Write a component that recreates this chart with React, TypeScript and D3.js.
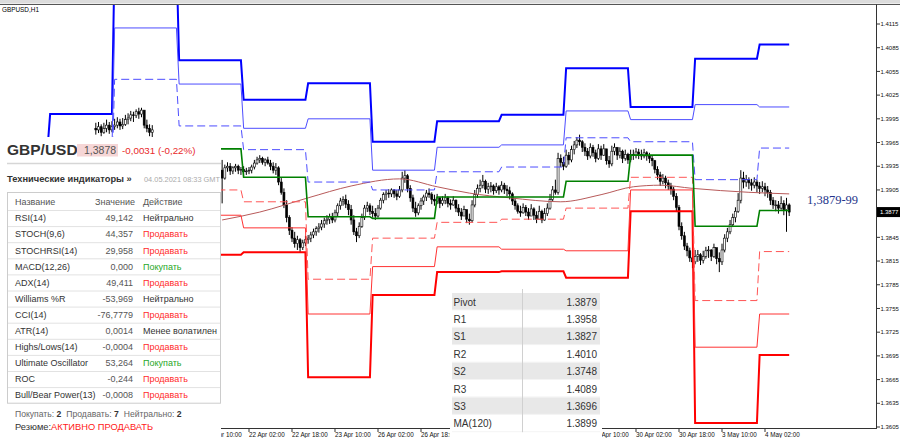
import React from 'react';
import * as d3 from 'd3';

const W = 900;
const H = 438;
const FONT = "'Liberation Sans', Arial, sans-serif";

// ---- axes ----
const priceTicks = [1.4115, 1.4085, 1.4055, 1.4025, 1.3995, 1.3965, 1.3935, 1.3905, 1.3845, 1.3815, 1.3785, 1.3755, 1.3725, 1.3695, 1.3665, 1.3635, 1.3605];
const currentPrice = 1.3877;
const timeTickBars = [-16, 0, 16, 32, 48, 64, 80, 96, 112, 128, 144, 160, 176, 192];
const timeTickLabels = ['21 Apr 10:00', '22 Apr 02:00', '22 Apr 18:00', '23 Apr 10:00', '26 Apr 02:00', '26 Apr 18:00', '27 Apr 10:00', '28 Apr 02:00', '28 Apr 18:00', '29 Apr 10:00', '30 Apr 02:00', '30 Apr 18:00', '3 May 10:00', '4 May 02:00'];

// ---- daily pivot levels (bar index of day start; 0 = 22 Apr 02:00) ----
const dayStarts = [-98, -74, -50, -26, -2, 22, 46, 70, 94, 118, 142, 166, 190];
const lastBar = 201;
const levelR3 = [1.3956, 1.4001, 1.4200, 1.4069, 1.4019, 1.4040, 1.3966, 1.3992, 1.4000, 1.4059, 1.4010, 1.4071, 1.4089];
const levelR2 = [null, 1.3956, 1.4110, 1.4039, 1.3983, 1.3995, 1.3930, 1.3959, 1.3962, 1.4005, 1.3994, 1.4013, 1.4010];
const levelR1 = [null, 1.3919, 1.4045, 1.3986, 1.3956, 1.3915, 1.3905, 1.3928, 1.3934, 1.3971, 1.3966, 1.3918, 1.3958];
const levelP = [null, 1.3873, 1.3956, 1.3957, 1.3921, 1.3871, 1.3869, 1.3896, 1.3896, 1.3916, 1.3949, 1.3859, 1.3879];
const levelS1 = [null, 1.3837, 1.3891, 1.3905, 1.3890, 1.3792, 1.3844, 1.3864, 1.3868, 1.3882, 1.3921, 1.3765, 1.3827];
const levelS2 = [null, 1.3791, 1.3801, 1.3873, 1.3857, 1.3748, 1.3808, 1.3833, 1.3830, 1.3828, 1.3905, 1.3706, 1.3748];
const levelS3 = [null, 1.3754, 1.3711, 1.3823, 1.3826, 1.3668, 1.3772, 1.3801, 1.3802, 1.3794, 1.3878, 1.3610, 1.3696];

// ---- MA(120) read points [bar, value] ----
const maPoints = [[-10, 1.3867], [4, 1.3877], [22, 1.3895], [38, 1.3910], [56, 1.3919], [70, 1.3909], [82, 1.3901], [97, 1.3895], [116, 1.3890], [131, 1.3899], [143, 1.3909], [153, 1.3911], [165, 1.3907], [186, 1.3902], [201, 1.3900]];

// ---- candles [high, low, close]; open = previous close ----
const candlesAStart = -57;
const candlesAOpen = 1.3983;
const candlesA = [
  [1.3990, 1.3975, 1.3981], [1.3991, 1.3977, 1.3985], [1.3988, 1.3973, 1.3978], [1.3990, 1.3976, 1.3983],
  [1.3994, 1.3978, 1.3987], [1.3991, 1.3976, 1.3981], [1.3992, 1.3978, 1.3985], [1.3995, 1.3981, 1.3987],
  [1.3997, 1.3983, 1.3991], [1.3995, 1.3981, 1.3986], [1.3996, 1.3982, 1.3988], [1.4000, 1.3986, 1.3994],
  [1.4002, 1.3988, 1.3996], [1.4005, 1.3992, 1.4000], [1.4004, 1.3991, 1.3999], [1.4007, 1.3996, 1.4004],
  [1.4009, 1.3995, 1.4001], [1.4009, 1.3997, 1.4006], [1.4004, 1.3983, 1.3987], [1.3994, 1.3978, 1.3983],
  [1.3988, 1.3973, 1.3978], [1.3987, 1.3972, 1.3981],
];
const candlesBStart = -10;
const candlesBOpen = 1.3930;
const candlesB = [
  [1.3943, 1.3888, 1.3920], [1.3937, 1.3918, 1.3933], [1.3940, 1.3928, 1.3935], [1.3939, 1.3924, 1.3929],
  [1.3935, 1.3925, 1.3933], [1.3938, 1.3928, 1.3935], [1.3937, 1.3925, 1.3930], [1.3934, 1.3924, 1.3931],
  [1.3935, 1.3923, 1.3928], [1.3933, 1.3924, 1.3929], [1.3934, 1.3925, 1.3930], [1.3937, 1.3926, 1.3934],
  [1.3943, 1.3931, 1.3939], [1.3947, 1.3937, 1.3943], [1.3949, 1.3939, 1.3945], [1.3947, 1.3937, 1.3940],
  [1.3945, 1.3935, 1.3943], [1.3947, 1.3937, 1.3939], [1.3943, 1.3930, 1.3935], [1.3940, 1.3926, 1.3930],
  [1.3939, 1.3924, 1.3933], [1.3935, 1.3911, 1.3915], [1.3920, 1.3899, 1.3902], [1.3907, 1.3882, 1.3886],
  [1.3892, 1.3864, 1.3870], [1.3873, 1.3848, 1.3854], [1.3858, 1.3839, 1.3844], [1.3852, 1.3832, 1.3837],
  [1.3847, 1.3829, 1.3842], [1.3844, 1.3826, 1.3832], [1.3842, 1.3829, 1.3838], [1.3847, 1.3834, 1.3842],
  [1.3848, 1.3837, 1.3844], [1.3852, 1.3839, 1.3848], [1.3856, 1.3844, 1.3852], [1.3859, 1.3847, 1.3856],
  [1.3863, 1.3851, 1.3858], [1.3867, 1.3854, 1.3862], [1.3870, 1.3857, 1.3866], [1.3873, 1.3861, 1.3868],
  [1.3875, 1.3862, 1.3871], [1.3876, 1.3863, 1.3867], [1.3880, 1.3864, 1.3876], [1.3888, 1.3872, 1.3885],
  [1.3895, 1.3880, 1.3891], [1.3897, 1.3885, 1.3893], [1.3899, 1.3882, 1.3887], [1.3892, 1.3873, 1.3880],
  [1.3886, 1.3861, 1.3867], [1.3873, 1.3848, 1.3852], [1.3857, 1.3839, 1.3847], [1.3864, 1.3844, 1.3859],
  [1.3875, 1.3857, 1.3870], [1.3886, 1.3867, 1.3882], [1.3890, 1.3877, 1.3885], [1.3888, 1.3873, 1.3878],
  [1.3885, 1.3870, 1.3875], [1.3882, 1.3867, 1.3872], [1.3886, 1.3870, 1.3882], [1.3895, 1.3880, 1.3892],
  [1.3902, 1.3888, 1.3899], [1.3905, 1.3892, 1.3901], [1.3906, 1.3895, 1.3900], [1.3907, 1.3896, 1.3905],
  [1.3906, 1.3895, 1.3900], [1.3905, 1.3892, 1.3897], [1.3910, 1.3895, 1.3905], [1.3928, 1.3902, 1.3920],
  [1.3930, 1.3914, 1.3923], [1.3925, 1.3902, 1.3907], [1.3911, 1.3890, 1.3895], [1.3899, 1.3877, 1.3882],
  [1.3890, 1.3871, 1.3876], [1.3888, 1.3873, 1.3885], [1.3895, 1.3880, 1.3891], [1.3899, 1.3886, 1.3896],
  [1.3905, 1.3891, 1.3901], [1.3907, 1.3895, 1.3899], [1.3902, 1.3887, 1.3893], [1.3899, 1.3885, 1.3891],
  [1.3900, 1.3887, 1.3895], [1.3896, 1.3882, 1.3888], [1.3897, 1.3885, 1.3892], [1.3900, 1.3887, 1.3895],
  [1.3897, 1.3883, 1.3888], [1.3893, 1.3880, 1.3886], [1.3897, 1.3885, 1.3892], [1.3893, 1.3877, 1.3882],
  [1.3887, 1.3872, 1.3877], [1.3882, 1.3867, 1.3872], [1.3885, 1.3872, 1.3880], [1.3880, 1.3863, 1.3868],
  [1.3875, 1.3861, 1.3866], [1.3892, 1.3864, 1.3886], [1.3905, 1.3883, 1.3899], [1.3912, 1.3895, 1.3907],
  [1.3918, 1.3902, 1.3911], [1.3924, 1.3907, 1.3916], [1.3918, 1.3901, 1.3906], [1.3914, 1.3900, 1.3909],
  [1.3915, 1.3902, 1.3910], [1.3912, 1.3899, 1.3904], [1.3914, 1.3901, 1.3909], [1.3911, 1.3899, 1.3905],
  [1.3916, 1.3902, 1.3911], [1.3914, 1.3900, 1.3906], [1.3911, 1.3897, 1.3904], [1.3909, 1.3893, 1.3900],
  [1.3902, 1.3886, 1.3891], [1.3895, 1.3880, 1.3885], [1.3888, 1.3875, 1.3878], [1.3885, 1.3871, 1.3876],
  [1.3888, 1.3875, 1.3883], [1.3886, 1.3872, 1.3877], [1.3882, 1.3867, 1.3872], [1.3887, 1.3872, 1.3881],
  [1.3883, 1.3867, 1.3873], [1.3878, 1.3863, 1.3868], [1.3885, 1.3870, 1.3878], [1.3880, 1.3863, 1.3867],
  [1.3882, 1.3866, 1.3875], [1.3888, 1.3872, 1.3882], [1.3900, 1.3880, 1.3893], [1.3910, 1.3891, 1.3905],
  [1.3918, 1.3899, 1.3902], [1.3952, 1.3899, 1.3945], [1.3950, 1.3934, 1.3940], [1.3947, 1.3930, 1.3935],
  [1.3956, 1.3933, 1.3949], [1.3953, 1.3937, 1.3943], [1.3961, 1.3940, 1.3956], [1.3967, 1.3950, 1.3962],
  [1.3972, 1.3958, 1.3968], [1.3975, 1.3961, 1.3966], [1.3968, 1.3953, 1.3959], [1.3964, 1.3948, 1.3954],
  [1.3958, 1.3943, 1.3948], [1.3964, 1.3945, 1.3959], [1.3962, 1.3947, 1.3952], [1.3956, 1.3940, 1.3945],
  [1.3963, 1.3943, 1.3957], [1.3961, 1.3943, 1.3949], [1.3963, 1.3948, 1.3957], [1.3956, 1.3937, 1.3942],
  [1.3948, 1.3933, 1.3938], [1.3961, 1.3935, 1.3954], [1.3964, 1.3949, 1.3959], [1.3958, 1.3943, 1.3949],
  [1.3959, 1.3945, 1.3954], [1.3956, 1.3939, 1.3945], [1.3956, 1.3942, 1.3950], [1.3952, 1.3938, 1.3943],
  [1.3956, 1.3940, 1.3950], [1.3956, 1.3943, 1.3949], [1.3958, 1.3945, 1.3953], [1.3957, 1.3944, 1.3950],
  [1.3956, 1.3943, 1.3948], [1.3957, 1.3945, 1.3952], [1.3954, 1.3942, 1.3948], [1.3952, 1.3939, 1.3945],
  [1.3949, 1.3935, 1.3942], [1.3943, 1.3926, 1.3931], [1.3935, 1.3918, 1.3924], [1.3928, 1.3910, 1.3916],
  [1.3925, 1.3912, 1.3920], [1.3923, 1.3907, 1.3914], [1.3918, 1.3905, 1.3910], [1.3914, 1.3899, 1.3906],
  [1.3909, 1.3892, 1.3897], [1.3901, 1.3877, 1.3883], [1.3886, 1.3854, 1.3859], [1.3864, 1.3842, 1.3847],
  [1.3852, 1.3829, 1.3834], [1.3838, 1.3821, 1.3828], [1.3832, 1.3814, 1.3819], [1.3826, 1.3806, 1.3814],
  [1.3829, 1.3811, 1.3821], [1.3829, 1.3814, 1.3823], [1.3825, 1.3810, 1.3816], [1.3828, 1.3812, 1.3821],
  [1.3833, 1.3818, 1.3828], [1.3834, 1.3819, 1.3829], [1.3830, 1.3815, 1.3821], [1.3837, 1.3819, 1.3832],
  [1.3830, 1.3811, 1.3818], [1.3826, 1.3801, 1.3814], [1.3837, 1.3810, 1.3829], [1.3849, 1.3826, 1.3844],
  [1.3857, 1.3839, 1.3852], [1.3867, 1.3849, 1.3861], [1.3875, 1.3858, 1.3870], [1.3883, 1.3864, 1.3878],
  [1.3901, 1.3876, 1.3892], [1.3930, 1.3888, 1.3920], [1.3928, 1.3907, 1.3915], [1.3924, 1.3909, 1.3918],
  [1.3921, 1.3906, 1.3914], [1.3919, 1.3904, 1.3911], [1.3921, 1.3907, 1.3915], [1.3918, 1.3902, 1.3910],
  [1.3915, 1.3900, 1.3907], [1.3916, 1.3902, 1.3909], [1.3914, 1.3897, 1.3905], [1.3910, 1.3895, 1.3902],
  [1.3905, 1.3886, 1.3892], [1.3896, 1.3881, 1.3886], [1.3892, 1.3878, 1.3886], [1.3891, 1.3875, 1.3882],
  [1.3897, 1.3880, 1.3888], [1.3892, 1.3873, 1.3880], [1.3895, 1.3852, 1.3886], [1.3888, 1.3872, 1.3877],
];

// ---- indicator panel ----
const pairName = 'GBP/USD';
const pairPrice = '1,3878';
const pairChange = '-0,0031 (-0,22%)';
const indicatorNames = ['RSI(14)', 'STOCH(9,6)', 'STOCHRSI(14)', 'MACD(12,26)', 'ADX(14)', 'Williams %R', 'CCI(14)', 'ATR(14)', 'Highs/Lows(14)', 'Ultimate Oscillator', 'ROC', 'Bull/Bear Power(13)'];
const indicatorValues = ['49,142', '44,357', '29,958', '0,000', '49,411', '-53,969', '-76,7779', '0,0014', '-0,0004', '53,264', '-0,244', '-0,0008'];
const indicatorActions = ['Нейтрально', 'Продавать', 'Продавать', 'Покупать', 'Продавать', 'Нейтрально', 'Продавать', 'Менее волатилен', 'Продавать', 'Покупать', 'Продавать', 'Продавать'];

// ---- pivot table ----
const pivotLabels = ['Pivot', 'R1', 'S1', 'R2', 'S2', 'R3', 'S3', 'MA(120)'];
const pivotValues = ['1.3879', '1.3958', '1.3827', '1.4010', '1.3748', '1.4089', '1.3696', '1.3899'];

const xs = d3.scaleLinear().domain([0, 192]).range([249, 765]);
const ys = d3.scaleLinear().domain([1.3605, 1.4115]).range([427, 24]);

function stepPoints(vals: (number | null)[]) {
  const pts: [number, number | null][] = [];
  vals.forEach((v, d) => {
    const s = dayStarts[d];
    const e = d < dayStarts.length - 1 ? dayStarts[d + 1] - 1 : lastBar;
    pts.push([s, v]);
    pts.push([e, v]);
  });
  return pts;
}

const stepLine = d3.line<[number, number | null]>()
  .defined((p) => p[1] != null)
  .x((p) => xs(p[0]))
  .y((p) => ys(p[1] as number));

const maLine = d3.line<number[]>().curve(d3.curveMonotoneX).x((p) => xs(p[0])).y((p) => ys(p[1]));

function Candles({ start, open0, data }: { start: number; open0: number; data: number[][] }) {
  let prev = open0;
  return (
    <g>
      {data.map((c, k) => {
        const [hi, lo, cl] = c;
        const op = prev;
        prev = cl;
        const cx = xs(start + k);
        const top = ys(Math.max(op, cl));
        const bot = ys(Math.min(op, cl));
        const bull = cl >= op;
        return (
          <g key={k}>
            <line x1={cx} x2={cx} y1={ys(hi)} y2={ys(lo)} stroke="#000" strokeWidth={1} />
            <rect x={cx - 1} y={top} width={2} height={Math.max(bot - top, 0.8)} fill={bull ? '#fff' : '#000'} stroke="#000" strokeWidth={0.6} />
          </g>
        );
      })}
    </g>
  );
}

const levelStyles = [
  { vals: levelS3, color: '#ff0000', w: 2, dash: undefined },
  { vals: levelS2, color: '#ff3333', w: 1, dash: undefined },
  { vals: levelS1, color: '#ff5555', w: 1, dash: '8,4' },
  { vals: levelR3, color: '#0000ff', w: 2, dash: undefined },
  { vals: levelR2, color: '#4d4dff', w: 1, dash: undefined },
  { vals: levelR1, color: '#4d4dff', w: 1, dash: '8,4' },
  { vals: levelP, color: '#008000', w: 1.6, dash: undefined },
];

function actionColor(a: string) {
  if (a === 'Продавать') return '#ff2a2a';
  if (a === 'Покупать') return '#1fa71f';
  return '#333';
}

export default function App() {
  const rowTop = 210;
  const rowH = 16.1;
  const pvTop = 293;
  const pvH = 17.4;
  return (
    <svg width={W} height={H} style={{ position: 'fixed', left: 0, top: 0, background: '#fff' }} fontFamily={FONT}>
      <defs>
        <clipPath id="plot">
          <rect x={0} y={5} width={876} height={423} />
        </clipPath>
      </defs>
      <rect x={0} y={0} width={W} height={H} fill="#fff" />
      <rect x={0} y={0} width={W} height={3.5} fill="#dcdcdc" />
      <line x1={0} x2={W} y1={4.5} y2={4.5} stroke="#555" strokeWidth={1} />

      <g clipPath="url(#plot)">
        <Candles start={candlesAStart} open0={candlesAOpen} data={candlesA} />
        <Candles start={candlesBStart} open0={candlesBOpen} data={candlesB} />
        <path d={maLine(maPoints) || ''} fill="none" stroke="#b85a5a" strokeWidth={1} />
        {levelStyles.map((s, i) => (
          <path key={i} d={stepLine(stepPoints(s.vals)) || ''} fill="none" stroke={s.color} strokeWidth={s.w} strokeDasharray={s.dash} />
        ))}
      </g>

      <text x={807} y={204} fontFamily="'Liberation Serif', 'Times New Roman', serif" fontSize={12.5} fill="#25348a">1,3879-99</text>

      {/* right axis */}
      <line x1={876.5} x2={876.5} y1={4.5} y2={428.5} stroke="#333" strokeWidth={1} />
      {priceTicks.map((p) => (
        <g key={p}>
          <line x1={877} x2={880} y1={ys(p)} y2={ys(p)} stroke="#333" strokeWidth={1} />
          <text x={880.5} y={ys(p) + 2.2} fontSize={6} fill="#111">{p.toFixed(4)}</text>
        </g>
      ))}
      <rect x={877} y={ys(currentPrice) - 5} width={23} height={10} fill="#000" />
      <text x={880} y={ys(currentPrice) + 2.2} fontSize={6} fill="#fff">{currentPrice.toFixed(4)}</text>

      {/* bottom axis */}
      <line x1={0} x2={877} y1={428.5} y2={428.5} stroke="#333" strokeWidth={1} />
      {timeTickBars.map((b, i) => (
        <g key={b}>
          <line x1={xs(b)} x2={xs(b)} y1={429} y2={432} stroke="#333" strokeWidth={1} />
          <text x={xs(b)} y={436.5} fontSize={6.3} fill="#111">{timeTickLabels[i]}</text>
        </g>
      ))}

      <text x={2} y={12} fontSize={6.4} fill="#000">GBPUSD,H1</text>

      {/* left indicator panel */}
      <rect x={0} y={137} width={221} height={H - 137} fill="#fff" />
      <text x={7} y={154.5} fontSize={15.5} fontWeight="bold" fill="#333">{pairName}</text>
      <rect x={77} y={144} width={41} height={12.5} fill="#f6d6d6" />
      <text x={84} y={154} fontSize={10.5} fill="#555">{pairPrice}</text>
      <text x={122} y={154} fontSize={9.8} fill="#e82a2a">{pairChange}</text>
      <line x1={7} x2={221} y1={163.5} y2={163.5} stroke="#d6d6d6" strokeWidth={1.5} />
      <text x={7} y={182} fontSize={9.3} fontWeight="bold" fill="#333">Технические индикаторы »</text>
      <text x={144} y={182} fontSize={7.4} fill="#aaa">04.05.2021 08:33 GMT</text>

      <rect x={7.5} y={192.5} width={213} height={rowTop + rowH * indicatorNames.length - 192.5} fill="#fff" stroke="#ccc" strokeWidth={1} />
      <text x={15} y={205} fontSize={9} fill="#555">Название</text>
      <text x={95} y={205} fontSize={9} fill="#555">Значение</text>
      <text x={143} y={205} fontSize={9} fill="#555">Действие</text>
      {indicatorNames.map((n, i) => {
        const y0 = rowTop + rowH * i;
        return (
          <g key={n}>
            <line x1={8} x2={220} y1={y0 + 0.5} y2={y0 + 0.5} stroke="#e2e2e2" strokeWidth={1} />
            <text x={15} y={y0 + 11.3} fontSize={9} fill="#333">{n}</text>
            <text x={133} y={y0 + 11.3} fontSize={9} fill="#555" textAnchor="end">{indicatorValues[i]}</text>
            <text x={143} y={y0 + 11.3} fontSize={9} fill={actionColor(indicatorActions[i])}>{indicatorActions[i]}</text>
          </g>
        );
      })}
      <text x={15} y={417} fontSize={8.6} fill="#666">
        Покупать: <tspan fontWeight="bold" fill="#333">2</tspan>
        <tspan dx={5}>Продавать: </tspan><tspan fontWeight="bold" fill="#333">7</tspan>
        <tspan dx={5}>Нейтрально: </tspan><tspan fontWeight="bold" fill="#333">2</tspan>
      </text>
      <text x={15} y={430} fontSize={9.3} fill="#333">
        Резюме:<tspan fill="#ff2020">АКТИВНО ПРОДАВАТЬ</tspan>
      </text>

      {/* pivot table */}
      <rect x={450} y={287} width={152} height={H - 287} fill="#fff" />
      {pivotLabels.map((l, i) => {
        const y0 = pvTop + pvH * i;
        return (
          <g key={l}>
            <rect x={452} y={y0} width={148} height={pvH} fill={i % 2 === 0 ? '#e8e8e8' : '#fff'} />
            <line x1={452} x2={600} y1={y0 + pvH - 0.5} y2={y0 + pvH - 0.5} stroke="#f4f4f4" strokeWidth={1} />
            <text x={453.5} y={y0 + 12.5} fontSize={10} fill="#333">{l}</text>
            <text x={597} y={y0 + 12.5} fontSize={10} fill="#333" textAnchor="end">{pivotValues[i]}</text>
          </g>
        );
      })}
      <line x1={522.5} x2={522.5} y1={289} y2={pvTop + pvH * pivotLabels.length} stroke="#d0d0d0" strokeWidth={1} />
    </svg>
  );
}
